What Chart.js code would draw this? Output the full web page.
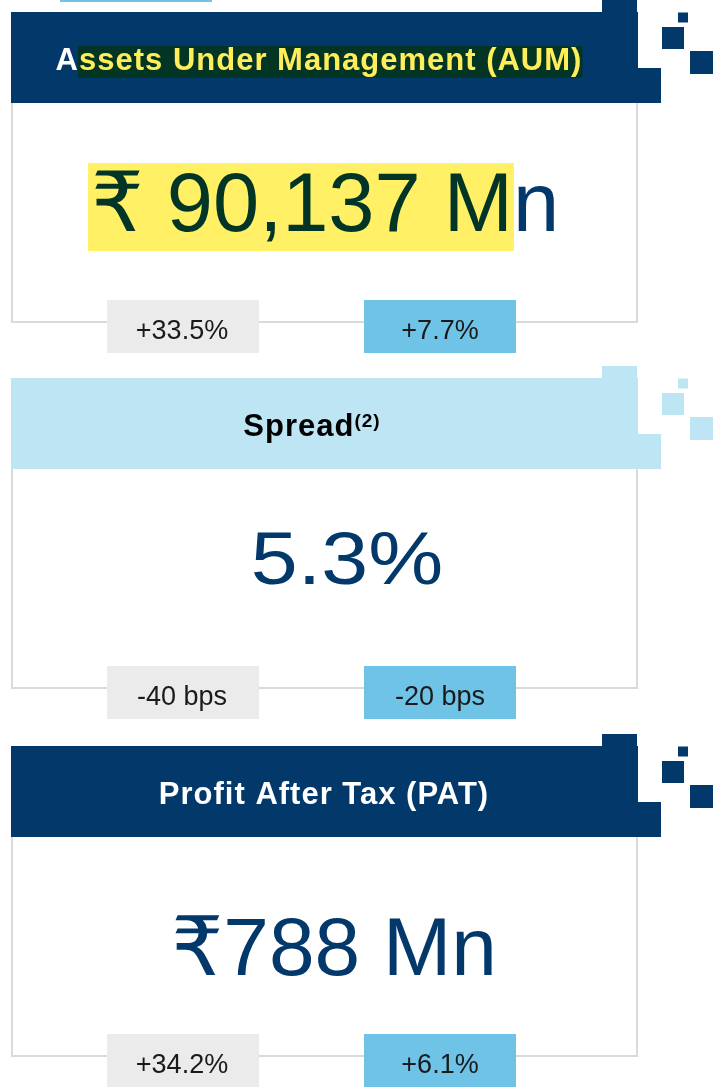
<!DOCTYPE html>
<html>
<head>
<meta charset="utf-8">
<script src="https://cdn.jsdelivr.net/npm/chart.js@4/dist/chart.umd.min.js"></script>
<style>
  html, body { margin: 0; padding: 0; background: #ffffff; }
  #wrap { width: 723px; height: 1089px; position: relative; }
</style>
</head>
<body>
<div id="wrap"><canvas id="c" width="723" height="1089"></canvas></div>
<script>
// ---- data ----
const titles = ["Assets Under Management (AUM)", "Spread", "Profit After Tax (PAT)"];
const titleNotes = ["", "(2)", ""];
const headlineValues = ["₹ 90,137 Mn", "5.3%", "₹788 Mn"];
const yoyChanges = ["+33.5%", "-40 bps", "+34.2%"];
const qoqChanges = ["+7.7%", "-20 bps", "+6.1%"];

// ---- layout / style (not data) ----
const NAVY = "#03386a";
const LIGHT = "#bee5f4";
const BADGE_BLUE = "#6ec3e6";
const BADGE_GREY = "#ebebeb";
const BORDER = "#dadada";
const FONT = "'Liberation Sans', Arial, 'DejaVu Sans', sans-serif";

const headerTops = [12, 378, 746];
const headerThemes = ["dark", "light", "dark"];
const titleCenters = [319, 312, 324];
const valueBaselines = [231, 584, 975];
const valueCenters = [325, 347, 334];
const valueFonts = [83, 74, 82];
const valueStretch = [1, 1.14, 1];

const cardsPlugin = {
  id: "kpiCards",
  afterDraw(chart) {
    const ctx = chart.ctx;
    ctx.save();
    // top accent line
    ctx.fillStyle = BADGE_BLUE;
    ctx.fillRect(60, 0, 152, 2);

    titles.forEach((title, i) => {
      const top = headerTops[i];
      const theme = headerThemes[i];
      const hColor = theme === "dark" ? NAVY : LIGHT;
      const hH = 91;
      const cardBottom = top + 310;
      // card border
      ctx.strokeStyle = BORDER;
      ctx.lineWidth = 2;
      ctx.beginPath();
      ctx.moveTo(12, top + hH);
      ctx.lineTo(12, cardBottom);
      ctx.lineTo(637, cardBottom);
      ctx.lineTo(637, top + hH);
      ctx.stroke();

      // header block
      ctx.fillStyle = hColor;
      ctx.fillRect(11, top, 627, hH);
      ctx.fillRect(602, top - 12, 35, 12);
      ctx.fillRect(626, top + 56, 35, 35);
      ctx.fillRect(678, top + 0.5, 10, 10);
      ctx.fillRect(662, top + 15, 22, 22);
      ctx.fillRect(690, top + 39, 23, 23);

      // header title
      ctx.font = "bold 31px " + FONT;
      ctx.letterSpacing = "1px";
      ctx.textBaseline = "alphabetic";
      ctx.textAlign = "left";
      const base = top + 57.5;
      const note = titleNotes[i];
      let w = ctx.measureText(title).width;
      let noteW = 0;
      const noteFont = "bold 19px " + FONT;
      if (note) {
        ctx.font = noteFont;
        noteW = ctx.measureText(note).width;
        ctx.font = "bold 31px " + FONT;
      }
      const cx = titleCenters[i];
      let x0 = cx - (w + noteW) / 2;
      if (i === 0) {
        const first = title.charAt(0);
        const fw = ctx.measureText(first).width;
        ctx.fillStyle = "#ffffff";
        ctx.fillText(first, x0, base);
        ctx.fillStyle = "#033524";
        ctx.fillRect(x0 + fw - 1, top + 34, w - fw + 1, 32);
        ctx.fillStyle = "#ffee5a";
        ctx.fillText(title.slice(1), x0 + fw, base);
      } else {
        ctx.fillStyle = theme === "dark" ? "#ffffff" : "#000000";
        ctx.fillText(title, x0, base);
        if (note) {
          ctx.font = noteFont;
          ctx.fillText(note, x0 + w, base - 9);
        }
      }
      ctx.letterSpacing = "0px";

      // headline value
      ctx.font = valueFonts[i] + "px " + FONT;
      const val = headlineValues[i];
      const vb = valueBaselines[i];
      const sx = valueStretch[i];
      ctx.save();
      ctx.translate(valueCenters[i], vb);
      ctx.scale(sx, 1);
      const vw = ctx.measureText(val).width;
      const vx = -vw / 2;
      if (i === 0) {
        const hl = val.slice(0, val.length - 1);
        const hw = ctx.measureText(hl).width;
        ctx.fillStyle = "#fff066";
        ctx.fillRect(vx - 3, -68, hw + 4, 88);
        ctx.fillStyle = "#033526";
        ctx.fillText(hl, vx, 0);
        ctx.fillStyle = NAVY;
        ctx.fillText(val.slice(-1), vx + hw, 0);
      } else {
        ctx.fillStyle = NAVY;
        ctx.fillText(val, vx, 0);
      }
      ctx.restore();

      // badges
      const bTop = top + 288;
      ctx.fillStyle = BADGE_GREY;
      ctx.fillRect(107, bTop, 152, 53);
      ctx.fillStyle = BADGE_BLUE;
      ctx.fillRect(364, bTop, 152, 53);
      ctx.font = "27px " + FONT;
      ctx.fillStyle = "#1a1a1a";
      ctx.textAlign = "center";
      ctx.fillText(yoyChanges[i], 182, bTop + 39);
      ctx.fillText(qoqChanges[i], 440, bTop + 39);
      ctx.textAlign = "left";
    });
    ctx.restore();
  }
};

new Chart(document.getElementById("c"), {
  type: "bar",
  data: { labels: titles, datasets: [] },
  options: {
    responsive: false,
    devicePixelRatio: 1,
    animation: false,
    layout: { padding: 0 },
    plugins: { legend: { display: false }, tooltip: { enabled: false } },
    scales: { x: { display: false }, y: { display: false } }
  },
  plugins: [cardsPlugin]
});
</script>
</body>
</html>
